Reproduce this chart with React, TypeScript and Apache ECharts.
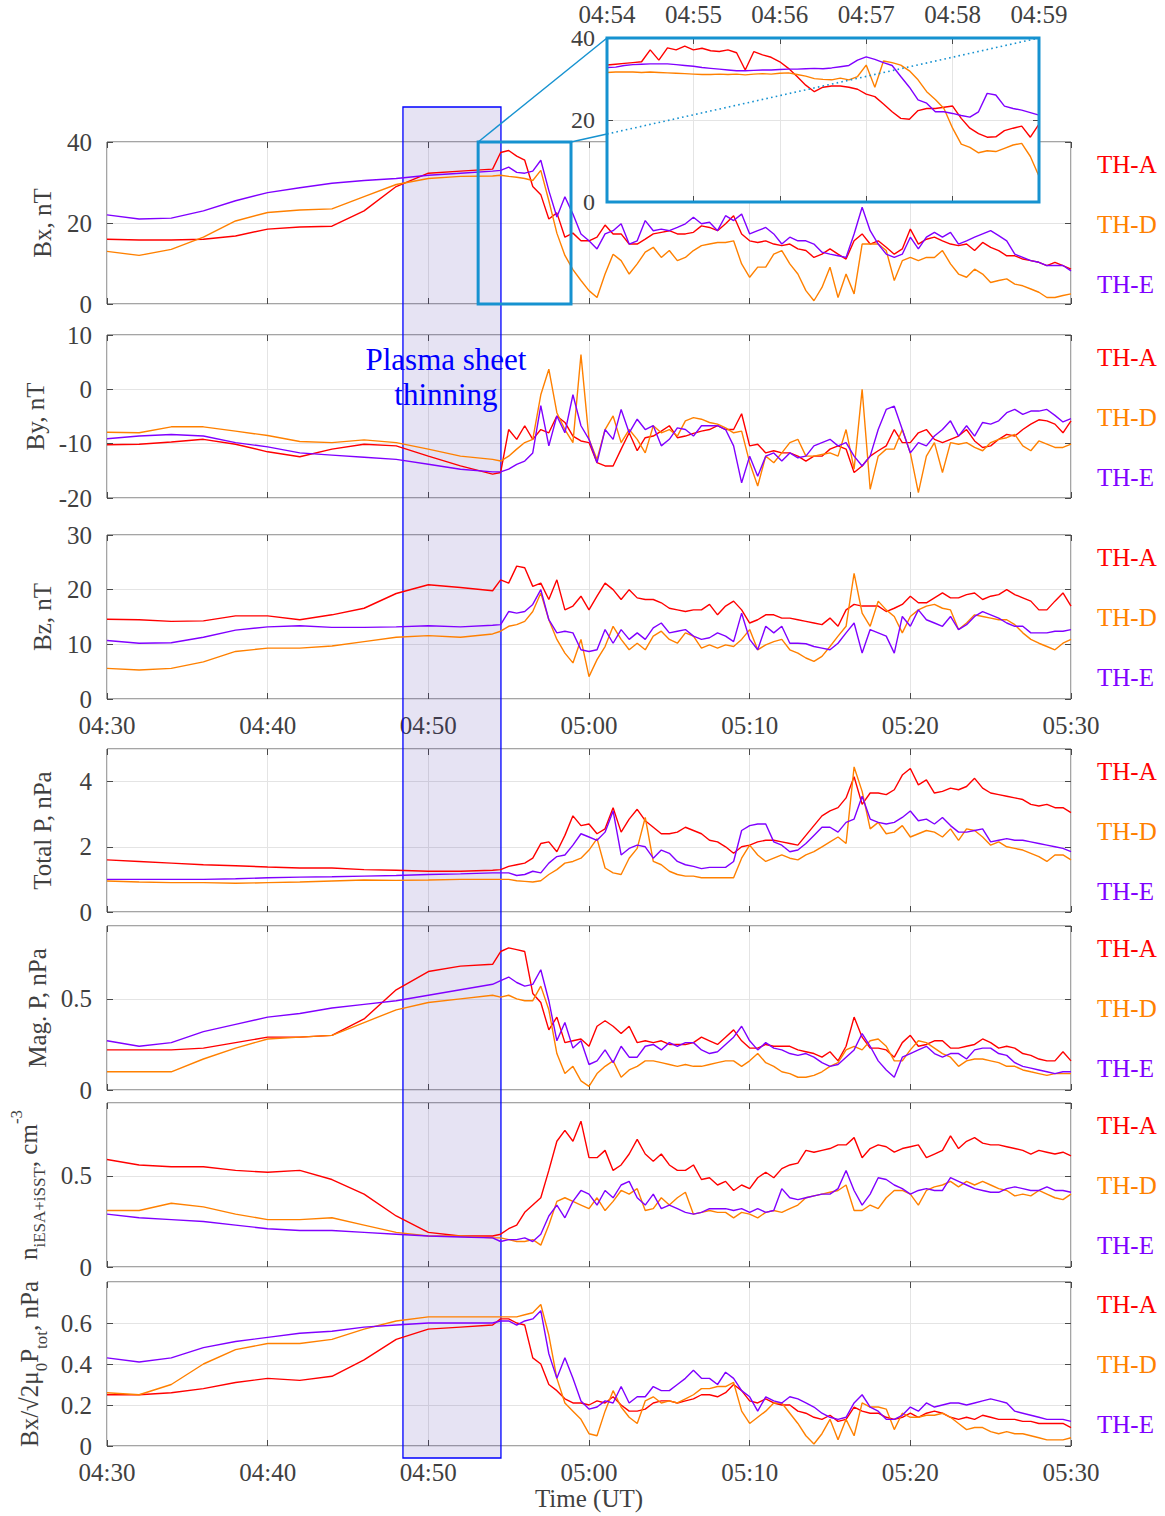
import React, { useEffect, useRef } from "react";
import * as echarts from "echarts";

const W = 1165;
const H = 1516;

// ---- time grid: minutes after 04:30 UT ----
const tQuiet = [0, 2, 4, 6, 8, 10, 12, 14, 16, 18, 20, 22, 24];
const tActive = Array.from({ length: 72 }, (_, i) => 24.5 + i * 0.5);
const tMin = [...tQuiet, ...tActive];
const tInset = Array.from({ length: 51 }, (_, i) => 24 + i * 0.1);

// ---- Bx, nT ----
const bxA = [16, 15.8, 15.8, 16, 16.8, 18.5, 19, 19.2, 23, 29, 32.3, 32.8, 33.3,
  37.4, 37.9, 36.5, 35.5, 29, 27, 21, 22.5, 16.5, 17.5,
  15.6, 15.6, 16.5, 19.5, 17.3, 17.3, 14.8, 14.8, 16, 17.3,
  17.7, 18.1, 17.3, 17.3, 17.7, 19.3, 18.9, 18.1, 19.8, 21.8,
  17.3, 15.6, 15.2, 15.6, 14.8, 14.4, 14.8, 13.6, 13.2, 11.5,
  12.3, 13.6, 12.3, 11.1, 15.6, 17.3, 14.8, 15.6, 14, 12.3,
  13.6, 18.5, 14.8, 16, 16.5, 15.6, 14.8, 14.4, 14.8, 13.2,
  15.2, 14, 13.2, 11.9, 11.9, 11.1, 10.7, 10.3, 9.5, 10.3,
  9.5, 8.6];
const bxD = [13, 12, 13.5, 16.5, 20.5, 22.6, 23.2, 23.5, 26.5, 29.5, 31, 31.5, 31.6,
  31.8, 31.5, 31.3, 31.0, 30.5, 33.0, 25.5, 17.5, 12.0, 8.5,
  5.8, 3.3, 1.6, 7.4, 12.3, 10.7, 7.4, 9.9, 12.8, 14,
  11.5, 13.2, 10.7, 11.5, 13.2, 14.4, 14.8, 15.2, 15.2, 15.6,
  9.9, 6.6, 9.1, 9.1, 12.3, 13.2, 9.9, 7.4, 3.3, 0.8,
  4.1, 9.1, 1.6, 7.4, 2.5, 14.8, 14.8, 14.8, 13.2, 5.8,
  10.7, 11.5, 10.7, 11.5, 11.5, 13.2, 9.9, 7.4, 6.6, 8.6,
  7.4, 5.3, 5.8, 6.2, 4.9, 4.5, 3.7, 2.9, 1.6, 1.6,
  2.1, 2.5];
const bxE = [22, 21, 21.2, 23, 25.5, 27.5, 28.7, 29.8, 30.5, 31, 31.8, 32.3, 32.8,
  33.0, 33.8, 32.5, 32.3, 32.8, 35.5, 28, 21.5, 26.5, 22.2,
  17.3, 15.6, 13.6, 17.3, 18.1, 19.8, 14.8, 15.6, 20.6, 18.1,
  18.5, 18.1, 18.9, 19.8, 21.4, 19.8, 20.2, 18.1, 21.8, 20.6,
  22.2, 17.3, 18.1, 18.9, 17.3, 14.8, 16.5, 15.6, 15.6, 14.8,
  12.8, 12.3, 11.9, 11.5, 17.3, 23.9, 18.1, 14.8, 12.3, 11.5,
  12.3, 16.5, 13.6, 16.5, 17.7, 16.5, 17.7, 14.8, 15.6, 16.5,
  17.3, 18.1, 16.9, 15.6, 12.3, 11.5, 10.7, 10.3, 9.5, 9.5,
  9.5, 8.2];

// ---- By, nT ----
const byA = [-10.2, -10.1, -9.7, -9.2, -10.1, -11.5, -12.4, -11, -10.1, -10.4, -12.3, -14.1, -15.6,
  -15.3, -7.4, -9.2, -6.7, -9.2, -7.4, -8, -4.9, -6.1, -8.6,
  -9.5, -9.8, -13.5, -14.1, -14.1, -11, -8, -11.3, -8.9, -8.6,
  -7.7, -6.7, -8.9, -8.6, -8.1, -7.7, -7.4, -6.7, -7.4, -7.4,
  -4.5, -10.4, -10.1, -11.7, -11.3, -11.7, -11.7, -12.3, -13.2, -12.3,
  -12.3, -11, -10.4, -11, -15.3, -14.1, -12.3, -11.3, -10.4, -7.4,
  -9.8, -9.8, -8, -7.4, -9.2, -9.8, -9.2, -8.6, -7.4, -9.5,
  -10.7, -10.4, -9.2, -8.3, -8.6, -7.4, -6.4, -5.6, -5.8, -6.4,
  -8, -5.8];
const byD = [-7.9, -8, -6.9, -6.9, -7.7, -8.5, -9.6, -9.8, -9.3, -9.8, -11, -12.3, -12.9,
  -13.2, -12.3, -11, -9.8, -9.2, -1, 3.7, -4.3, -7.4, -9.8,
  6.4, -9.2, -12.9, -7.4, -4.9, -9.8, -7.4, -9.2, -11.7, -6.7,
  -8, -7.4, -8.6, -5.8, -5.2, -5.5, -6.1, -6.4, -7.1, -8,
  -7.7, -13.5, -17.8, -12.3, -13.5, -11.7, -9.8, -9.2, -12.3, -12.3,
  -12, -11.7, -12.3, -7.4, -14.7, 0, -18.4, -12.3, -11, -11,
  -7.4, -11.7, -19, -12.3, -9.8, -15.3, -9.8, -10.1, -9.8, -10.7,
  -11.3, -9.8, -9.2, -8.9, -8.3, -10.4, -11.3, -9.5, -10.1, -10.7,
  -10.7, -10.1];
const byE = [-9.1, -8.6, -8.3, -8.6, -9.8, -10.6, -11.7, -12.1, -12.5, -12.9, -13.8, -14.7, -15.2,
  -15.2, -14.7, -13.8, -13.2, -11.7, -3, -10.4, -4.9, -8, -1,
  -6.7, -9.2, -13.5, -7.4, -9.2, -3.7, -8, -5.5, -7.4, -6.7,
  -10.4, -9.2, -7.1, -7.4, -8.6, -6.7, -6.7, -6.7, -7.4, -10.4,
  -17.2, -12.3, -16, -12.3, -11.7, -13.2, -11.7, -12.6, -12.3, -10.4,
  -9.8, -9.2, -10.4, -9.8, -12.3, -14.1, -12.3, -7.4, -3.7, -3.1,
  -7.4, -11.7, -9.8, -10.4, -8.6, -7.4, -5.8, -8.6, -6.7, -8.6,
  -6.1, -6.4, -5.8, -4.3, -3.7, -4.6, -4, -4, -3.7, -4.8,
  -6, -5.4];

// ---- Bz, nT ----
const bzA = [14.6, 14.5, 14.2, 14.3, 15.2, 15.2, 14.5, 15.4, 16.6, 19.3, 20.9, 20.4, 19.8,
  21.8, 21.2, 24.3, 24, 20.6, 21.2, 18.2, 21.8, 16.3, 17,
  18.8, 16.3, 18.8, 21.2, 20, 18.2, 20, 18.5, 18.2, 18.2,
  17.6, 16.6, 16.3, 16, 16.3, 16.3, 17.3, 15.4, 17, 17.9,
  16.3, 13.9, 14.5, 15.4, 15.4, 14.8, 14.8, 14.5, 14.2, 13.9,
  13.6, 14.8, 13.3, 16.3, 17.3, 17, 17, 17, 16, 16.6,
  17.3, 18.8, 17.6, 17.6, 18.5, 19.4, 18.5, 18.5, 19.1, 19.4,
  18.2, 18.8, 19.1, 20, 19.1, 18.5, 17.9, 16.3, 16.3, 17.9,
  19.4, 17];
const bzD = [5.6, 5.3, 5.6, 6.8, 8.7, 9.3, 9.3, 9.7, 10.5, 11.3, 11.6, 11.3, 11.9,
  12.4, 13.3, 13.6, 14.2, 16, 19.4, 14.5, 10.9, 8.4, 6.6,
  10.9, 4.1, 7.2, 9.6, 13.3, 10.9, 9, 10.2, 9, 11.5,
  12.4, 10.9, 10.2, 12.1, 11.5, 9.3, 9.9, 9.3, 9.9, 9.6,
  10.9, 12.7, 9, 9.9, 10.5, 10.9, 9, 8.4, 7.5, 6.9,
  7.8, 9.6, 11.5, 13.3, 23, 15.7, 13.3, 17.9, 16.3, 15.1,
  12.1, 15.1, 16.3, 17, 17.3, 16.6, 16.3, 12.7, 13.9, 15.4,
  15.1, 14.8, 14.5, 14.5, 13.6, 12.1, 10.9, 10.2, 9.6, 9,
  10.2, 10.9];
const bzE = [10.7, 10.2, 10.3, 11.3, 12.6, 13.2, 13.4, 13.1, 13.1, 13.2, 13.4, 13.2, 13.5,
  13.6, 16, 15.7, 16, 17.3, 20, 14.5, 12.1, 12.4, 12.1,
  9, 8.7, 9, 12.7, 10.2, 12.7, 10.9, 12.1, 10.9, 13,
  13.9, 12.1, 12.4, 12.7, 11.5, 10.9, 11.2, 12.1, 11.5, 10.5,
  15.7, 10.9, 9, 13.3, 12.1, 13.3, 10.2, 10.2, 10.1, 9.6,
  9.3, 9, 10.2, 12.1, 13.9, 8.4, 12.7, 12.1, 11.5, 8.4,
  15.1, 13.3, 16.3, 14.5, 13.9, 13.3, 15.1, 12.7, 13.6, 15.1,
  16, 15.4, 14.8, 13.9, 13.3, 13.3, 12.1, 12.1, 12.1, 12.4,
  12.4, 12.7];

// ---- Total P, nPa ----
const tpA = [1.6, 1.55, 1.5, 1.45, 1.42, 1.38, 1.35, 1.35, 1.3, 1.28, 1.25, 1.25, 1.28,
  1.3, 1.4, 1.45, 1.5, 1.65, 2.1, 2.15, 1.85, 2.35, 2.95,
  2.65, 2.7, 2.4, 2.55, 3.2, 2.45, 2.85, 3.15, 2.8, 2.6,
  2.4, 2.4, 2.45, 2.6, 2.5, 2.4, 2.2, 2.15, 2, 1.8,
  2, 2.05, 2.15, 2.2, 2.2, 2.15, 2.1, 2.05, 2.35, 2.65,
  2.95, 3.1, 3.2, 3.5, 4.15, 3.3, 3.65, 3.65, 3.6, 3.75,
  4.2, 4.4, 3.9, 4.05, 3.65, 3.7, 3.8, 3.75, 3.85, 4.1,
  3.8, 3.65, 3.6, 3.55, 3.5, 3.45, 3.3, 3.25, 3.3, 3.2,
  3.2, 3.05];
const tpD = [0.95, 0.92, 0.9, 0.9, 0.88, 0.9, 0.92, 0.95, 0.98, 0.97, 0.98, 1.0, 1.0,
  1.0, 1.0, 0.96, 0.94, 0.92, 0.96, 1.15, 1.3, 1.5, 1.55,
  1.65, 1.9, 2.25, 1.35, 1.2, 1.15, 1.65, 1.95, 2.9, 1.55,
  1.45, 1.25, 1.15, 1.1, 1.1, 1.05, 1.05, 1.05, 1.05, 1.05,
  1.65, 2.05, 1.75, 1.55, 1.65, 1.75, 1.65, 1.6, 1.75, 1.85,
  2, 2.15, 2.3, 2.1, 4.45, 3.7, 2.55, 2.75, 2.4, 2.45,
  2.65, 2.3, 2.4, 2.5, 2.45, 2.3, 2.55, 2.2, 2.55, 2.5,
  2.3, 2.05, 2.15, 2, 1.95, 1.9, 1.8, 1.7, 1.55, 1.75,
  1.75, 1.6];
const tpE = [1.0, 1.0, 1.0, 1.0, 1.02, 1.05, 1.07, 1.08, 1.1, 1.12, 1.15, 1.17, 1.2,
  1.2, 1.2, 1.12, 1.15, 1.25, 1.2, 1.5, 1.7, 1.75, 2.05,
  2.4, 2.3, 2.2, 2.45, 3.1, 1.75, 1.95, 2.05, 2, 1.65,
  1.9, 1.8, 1.55, 1.45, 1.4, 1.33, 1.37, 1.37, 1.37, 1.55,
  2.5, 2.65, 2.7, 2.7, 2.15, 2.05, 1.85, 1.9, 2.1, 2.35,
  2.6, 2.6, 2.45, 2.75, 2.85, 3.55, 2.85, 2.75, 2.7, 2.75,
  2.9, 3.1, 2.8, 2.85, 2.7, 2.9, 2.65, 2.45, 2.45, 2.5,
  2.55, 2.15, 2.2, 2.25, 2.2, 2.2, 2.15, 2.1, 2.05, 2,
  1.95, 1.85];

// ---- Mag. P, nPa ----
const mpA = [0.22, 0.22, 0.22, 0.23, 0.26, 0.29, 0.29, 0.3, 0.39, 0.55, 0.65, 0.68, 0.69,
  0.76, 0.78, 0.77, 0.76, 0.53, 0.48, 0.33, 0.4, 0.26, 0.27,
  0.28, 0.24, 0.35, 0.38, 0.35, 0.31, 0.35, 0.26, 0.27, 0.26,
  0.27, 0.25, 0.25, 0.25, 0.26, 0.29, 0.27, 0.25, 0.29, 0.33,
  0.27, 0.23, 0.23, 0.25, 0.24, 0.24, 0.24, 0.22, 0.21, 0.2,
  0.18, 0.21, 0.16, 0.24, 0.4, 0.29, 0.23, 0.23, 0.22, 0.18,
  0.26, 0.3, 0.24, 0.25, 0.27, 0.27, 0.23, 0.23, 0.24, 0.25,
  0.28, 0.26, 0.23, 0.24, 0.23, 0.2, 0.19, 0.17, 0.16, 0.16,
  0.21, 0.16];
const mpD = [0.1, 0.1, 0.1, 0.17, 0.23, 0.28, 0.29, 0.3, 0.37, 0.44, 0.48, 0.5, 0.52,
  0.51, 0.52, 0.5, 0.49, 0.49, 0.57, 0.44, 0.2, 0.09, 0.13,
  0.05, 0.02, 0.09, 0.13, 0.16, 0.07, 0.11, 0.13, 0.16, 0.16,
  0.15, 0.14, 0.13, 0.14, 0.13, 0.13, 0.14, 0.15, 0.16, 0.16,
  0.13, 0.16, 0.2, 0.15, 0.13, 0.1, 0.09, 0.07, 0.07, 0.08,
  0.1, 0.13, 0.15, 0.22, 0.24, 0.22, 0.27, 0.28, 0.24, 0.16,
  0.16, 0.22, 0.27, 0.26, 0.23, 0.2, 0.18, 0.13, 0.16, 0.17,
  0.17, 0.16, 0.15, 0.13, 0.13, 0.11, 0.1, 0.09, 0.08, 0.09,
  0.09, 0.09];
const mpE = [0.27, 0.24, 0.26, 0.32, 0.36, 0.4, 0.42, 0.45, 0.47, 0.49, 0.52, 0.55, 0.58,
  0.6, 0.62, 0.59, 0.57, 0.58, 0.66, 0.49, 0.27, 0.37, 0.23,
  0.27, 0.14, 0.16, 0.22, 0.15, 0.24, 0.18, 0.18, 0.24, 0.25,
  0.22, 0.26, 0.24, 0.26, 0.26, 0.22, 0.2, 0.21, 0.25, 0.29,
  0.35, 0.27, 0.22, 0.26, 0.23, 0.22, 0.2, 0.19, 0.2, 0.18,
  0.15, 0.13, 0.14, 0.18, 0.22, 0.31, 0.24, 0.16, 0.11, 0.07,
  0.18, 0.2, 0.22, 0.24, 0.2, 0.18, 0.2, 0.2, 0.17, 0.22,
  0.23, 0.23, 0.2, 0.19, 0.15, 0.13, 0.12, 0.11, 0.1, 0.09,
  0.1, 0.1];

// ---- n (iESA+iSST), cm^-3 ----
const nA = [0.59, 0.56, 0.55, 0.55, 0.53, 0.52, 0.53, 0.48, 0.4, 0.28, 0.19, 0.17, 0.17,
  0.18, 0.21, 0.23, 0.3, 0.34, 0.38, 0.53, 0.69, 0.75, 0.69,
  0.8, 0.6, 0.6, 0.64, 0.53, 0.56, 0.62, 0.7, 0.62, 0.58,
  0.62, 0.56, 0.53, 0.53, 0.56, 0.48, 0.49, 0.45, 0.47, 0.42,
  0.45, 0.43, 0.49, 0.52, 0.49, 0.54, 0.56, 0.57, 0.64, 0.63,
  0.64, 0.65, 0.67, 0.67, 0.71, 0.6, 0.65, 0.67, 0.66, 0.63,
  0.65, 0.66, 0.67, 0.6, 0.62, 0.64, 0.72, 0.65, 0.69, 0.71,
  0.68, 0.67, 0.67, 0.66, 0.65, 0.64, 0.62, 0.64, 0.63, 0.62,
  0.63, 0.61];
const nD = [0.31, 0.31, 0.35, 0.33, 0.29, 0.26, 0.26, 0.27, 0.23, 0.19, 0.17, 0.17, 0.16,
  0.16, 0.15, 0.14, 0.14, 0.15, 0.12, 0.23, 0.36, 0.38, 0.36,
  0.34, 0.32, 0.38, 0.31, 0.36, 0.42, 0.4, 0.43, 0.31, 0.32,
  0.38, 0.34, 0.38, 0.41, 0.29, 0.3, 0.31, 0.3, 0.3, 0.27,
  0.3, 0.29, 0.27, 0.3, 0.31, 0.3, 0.32, 0.34, 0.38, 0.39,
  0.4, 0.41, 0.42, 0.45, 0.31, 0.31, 0.34, 0.32, 0.38, 0.42,
  0.42, 0.4, 0.34, 0.42, 0.44, 0.45, 0.47, 0.44, 0.47, 0.45,
  0.47, 0.45, 0.43, 0.42, 0.39, 0.4, 0.39, 0.42, 0.4, 0.38,
  0.37, 0.4];
const nE = [0.29, 0.27, 0.26, 0.25, 0.23, 0.21, 0.2, 0.2, 0.19, 0.18, 0.17, 0.165, 0.16,
  0.14, 0.15, 0.15, 0.16, 0.14, 0.18, 0.28, 0.34, 0.27, 0.36,
  0.42, 0.4, 0.34, 0.42, 0.38, 0.45, 0.47, 0.38, 0.34, 0.4,
  0.32, 0.34, 0.32, 0.3, 0.29, 0.3, 0.32, 0.32, 0.32, 0.31,
  0.32, 0.3, 0.32, 0.3, 0.31, 0.43, 0.38, 0.37, 0.38, 0.39,
  0.4, 0.4, 0.43, 0.53, 0.42, 0.34, 0.4, 0.49, 0.48, 0.45,
  0.43, 0.4, 0.42, 0.43, 0.42, 0.42, 0.49, 0.47, 0.45, 0.43,
  0.42, 0.41, 0.41, 0.43, 0.44, 0.43, 0.42, 0.42, 0.44, 0.42,
  0.42, 0.41];

// ---- Bx / sqrt(2 mu0 Ptot), nPa ----
const bsA = [0.25, 0.25, 0.26, 0.28, 0.31, 0.33, 0.32, 0.34, 0.42, 0.52, 0.57, 0.58, 0.59,
  0.62, 0.62, 0.6, 0.59, 0.43, 0.4, 0.3, 0.27, 0.23, 0.21,
  0.21, 0.2, 0.22, 0.21, 0.24, 0.2, 0.17, 0.17, 0.18, 0.21,
  0.22, 0.22, 0.21, 0.22, 0.23, 0.25, 0.25, 0.24, 0.26, 0.3,
  0.27, 0.22, 0.21, 0.23, 0.21, 0.2, 0.2, 0.17, 0.16, 0.14,
  0.13, 0.15, 0.12, 0.13, 0.19, 0.17, 0.16, 0.16, 0.14, 0.13,
  0.14, 0.16, 0.14, 0.16, 0.17, 0.16, 0.14, 0.13, 0.14, 0.13,
  0.15, 0.14, 0.13, 0.13, 0.13, 0.12, 0.12, 0.11, 0.11, 0.11,
  0.11, 0.09];
const bsD = [0.26, 0.25, 0.3, 0.4, 0.47, 0.5, 0.5, 0.52, 0.57, 0.61, 0.63, 0.63, 0.63,
  0.63, 0.63, 0.63, 0.64, 0.65, 0.69, 0.54, 0.33, 0.21, 0.17,
  0.13, 0.06, 0.05, 0.17, 0.27, 0.19, 0.14, 0.11, 0.22, 0.24,
  0.21, 0.22, 0.21, 0.23, 0.25, 0.28, 0.28, 0.29, 0.29, 0.31,
  0.17, 0.11, 0.14, 0.17, 0.21, 0.21, 0.16, 0.11, 0.05, 0.01,
  0.06, 0.13, 0.03, 0.13, 0.05, 0.21, 0.19, 0.19, 0.18, 0.08,
  0.16, 0.14, 0.14, 0.15, 0.15, 0.16, 0.14, 0.11, 0.08, 0.09,
  0.09, 0.07, 0.06, 0.07, 0.06, 0.06, 0.05, 0.04, 0.03, 0.03,
  0.03, 0.04];
const bsE = [0.43, 0.41, 0.43, 0.48, 0.51, 0.53, 0.55, 0.56, 0.58, 0.59, 0.6, 0.6, 0.6,
  0.61, 0.61, 0.59, 0.61, 0.62, 0.66, 0.45, 0.33, 0.43, 0.33,
  0.22, 0.18, 0.19, 0.22, 0.21, 0.29, 0.21, 0.24, 0.24, 0.29,
  0.27, 0.27, 0.3, 0.33, 0.37, 0.33, 0.33, 0.3, 0.36, 0.33,
  0.27, 0.24, 0.17, 0.24, 0.22, 0.21, 0.24, 0.23, 0.21, 0.19,
  0.16, 0.14, 0.13, 0.14, 0.21, 0.25, 0.19, 0.17, 0.13, 0.13,
  0.15, 0.19, 0.17, 0.21, 0.19, 0.2, 0.21, 0.21, 0.2, 0.21,
  0.22, 0.23, 0.22, 0.21, 0.17, 0.16, 0.15, 0.14, 0.13, 0.13,
  0.13, 0.12];

// ---- inset: Bx, 04:54 - 04:59 ----
const insetA = [33.4, 33.6, 33.8, 34.0, 34.2, 37.1, 34.6, 37.6, 37.1, 38.0,
  37.1, 37.5, 36.9, 36.7, 37.1, 36.4, 32.2, 36.7, 35.9, 35.3,
  34.2, 32.6, 30.6, 28.5, 26.9, 28.0, 28.3, 28.3, 28.0, 27.5,
  26.3, 25.7, 23.9, 22.0, 20.4, 20.2, 22.3, 22.8, 22.8, 23.1,
  23.4, 20.4, 18.0, 16.7, 15.8, 15.9, 17.4, 18.0, 18.5, 15.8,
  19.0];
const insetD = [31.6, 31.7, 31.7, 31.7, 31.6, 31.7, 31.6, 31.5, 31.4, 31.3,
  31.2, 31.1, 31.1, 31.2, 31.1, 31.2, 31.0, 31.2, 31.3, 31.2,
  31.4, 31.5, 31.1, 30.7, 30.1, 29.9, 29.8, 30.2, 29.8, 30.6,
  33.4, 28.0, 34.4, 34.0, 33.4, 32.0, 29.8, 26.9, 25.0, 22.8,
  18.0, 14.1, 13.3, 12.0, 12.5, 12.3, 13.1, 13.9, 14.3, 11.1,
  6.3];
const insetE = [32.8, 32.9, 33.3, 33.5, 33.6, 33.7, 33.7, 33.7, 33.5, 33.3,
  33.1, 32.8, 32.6, 32.4, 32.2, 32.0, 32.0, 32.1, 32.2, 32.2,
  32.3, 32.4, 32.4, 32.5, 32.6, 32.5, 32.7, 33.0, 33.3, 34.6,
  35.4, 34.8, 34.0, 33.3, 30.6, 28.0, 24.9, 24.1, 22.0, 22.0,
  21.6, 21.1, 20.7, 22.0, 26.5, 26.1, 23.4, 22.8, 22.4, 21.8,
  21.2];

// annotation intervals (minutes after 04:30)
const THIN_START = 18.42;
const THIN_END = 24.52;
const ZOOM_T0 = 23.1;
const ZOOM_T1 = 28.88;

const SPACECRAFT = ["TH-A", "TH-D", "TH-E"];
const COLORS = ["#ff0000", "#ff8000", "#8000ff"];

const FONT = "'Liberation Serif', 'Times New Roman', serif";
const TXT = "#404040";
const AXC = "#4a4a4a";
const GRIDC = "#e4e4e4";
const CYAN = "#1692d0";
const FS = 25;

const PANELS = [
  { top: 142, height: 162, min: 0, max: 40, interval: 20, name: "Bx, nT", gap: 52, data: [bxA, bxD, bxE] },
  { top: 335, height: 163, min: -20, max: 10, interval: 10, name: "By, nT", gap: 52, data: [byA, byD, byE] },
  { top: 535, height: 164, min: 0, max: 30, interval: 10, name: "Bz, nT", gap: 52, data: [bzA, bzD, bzE], timeLabels: true },
  { top: 749, height: 163, min: 0, max: 5, interval: 2, name: "Total P, nPa", gap: 52, data: [tpA, tpD, tpE], hideMax: true },
  { top: 926, height: 164, min: 0, max: 0.9, interval: 0.5, name: "Mag. P, nPa", gap: 52, data: [mpA, mpD, mpE], hideMax: true },
  { top: 1103, height: 164, min: 0, max: 0.9, interval: 0.5, name: "{m|n}{sub|iESA+iSST}{m|, cm}{sup|-3}", gap: 59, data: [nA, nD, nE], hideMax: true },
  { top: 1282, height: 164, min: 0, max: 0.8, interval: 0.2, name: "{m|Bx/√2μ}{sub|0}{m|P}{sub|tot}{m|, nPa}", gap: 44, data: [bsA, bsD, bsE], hideMax: true, timeLabels: true, xName: "Time (UT)" },
];

const timeLabel = (t: number) => {
  const total = 4 * 60 + 30 + Math.round(t);
  const h = Math.floor(total / 60);
  const m = total % 60;
  return `${String(h).padStart(2, "0")}:${String(m).padStart(2, "0")}`;
};

const pairs = (t: number[], v: number[]) => t.map((x, i) => [x, v[i]]);

const textBase = { fontFamily: FONT, fontSize: FS, color: TXT };
const richName = {
  m: { fontFamily: FONT, fontSize: FS, color: TXT, lineHeight: 40, verticalAlign: "middle" },
  sub: { fontFamily: FONT, fontSize: 17, color: TXT, lineHeight: 17, verticalAlign: "bottom" },
  sup: { fontFamily: FONT, fontSize: 17, color: TXT, lineHeight: 17, verticalAlign: "top" },
};

function buildOption() {
  const grid: any[] = [];
  const xAxis: any[] = [];
  const yAxis: any[] = [];
  const series: any[] = [];
  const tick = { show: true, inside: true, length: 6, lineStyle: { color: AXC, width: 1 } };
  const noLine = { show: false, onZero: false };

  PANELS.forEach((p, gi) => {
    grid.push({
      left: 107, top: p.top, width: 964, height: p.height,
      show: true, borderColor: AXC, borderWidth: 1, backgroundColor: "transparent",
      containLabel: false, outerBoundsMode: "none",
    });
    xAxis.push({
      gridIndex: gi, type: "value", position: "bottom", min: 0, max: 60, interval: 10,
      axisLine: noLine, axisTick: tick,
      axisLabel: { show: !!p.timeLabels, formatter: timeLabel, margin: 14, ...textBase },
      splitLine: { show: true, lineStyle: { color: GRIDC, width: 1 } },
      name: p.xName || "", nameLocation: "middle", nameGap: 40,
      nameTextStyle: { ...textBase },
    });
    xAxis.push({
      gridIndex: gi, type: "value", position: "top", min: 0, max: 60, interval: 10,
      axisLine: noLine, axisTick: tick, axisLabel: { show: false }, splitLine: { show: false },
    });
    yAxis.push({
      gridIndex: gi, type: "value", position: "left", min: p.min, max: p.max, interval: p.interval,
      axisLine: noLine, axisTick: tick,
      axisLabel: { margin: 15, showMaxLabel: !p.hideMax, ...textBase },
      splitLine: { show: true, lineStyle: { color: GRIDC, width: 1 } },
      name: p.name, nameLocation: "middle", nameRotate: 90, nameGap: p.gap,
      nameTextStyle: { ...textBase, rich: richName },
    });
    yAxis.push({
      gridIndex: gi, type: "value", position: "right", min: p.min, max: p.max, interval: p.interval,
      axisLine: noLine, axisTick: tick, axisLabel: { show: false }, splitLine: { show: false },
    });
    p.data.forEach((arr, k) => {
      series.push({
        type: "line", name: SPACECRAFT[k], xAxisIndex: 2 * gi, yAxisIndex: 2 * gi,
        data: pairs(tMin, arr), showSymbol: false, symbol: "none", silent: true,
        lineStyle: { color: COLORS[k], width: 1.4 }, itemStyle: { color: COLORS[k] },
        emphasis: { disabled: true }, z: 2,
      });
    });
  });

  // inset
  const gi = PANELS.length;
  grid.push({ left: 607, top: 38, width: 432, height: 164, show: false, containLabel: false, outerBoundsMode: "none" });
  xAxis.push({
    gridIndex: gi, type: "value", position: "top", min: 24, max: 29, interval: 1, z: 10,
    axisLine: noLine, axisTick: tick,
    axisLabel: { show: true, formatter: timeLabel, margin: 13, lineHeight: 22, ...textBase },
    splitLine: { show: true, lineStyle: { color: GRIDC, width: 1 } },
  });
  xAxis.push({
    gridIndex: gi, type: "value", position: "bottom", min: 24, max: 29, interval: 1, z: 10,
    axisLine: noLine, axisTick: tick, axisLabel: { show: false }, splitLine: { show: false },
  });
  yAxis.push({
    gridIndex: gi, type: "value", position: "left", min: 0, max: 40, interval: 20, z: 10,
    axisLine: noLine, axisTick: tick,
    axisLabel: { margin: 12, ...textBase, fontSize: 24, lineHeight: 20 },
    splitLine: { show: true, lineStyle: { color: GRIDC, width: 1 } },
  });
  yAxis.push({
    gridIndex: gi, type: "value", position: "right", min: 0, max: 40, interval: 20, z: 10,
    axisLine: noLine, axisTick: tick, axisLabel: { show: false }, splitLine: { show: false },
  });
  [insetA, insetD, insetE].forEach((arr, k) => {
    series.push({
      type: "line", name: SPACECRAFT[k] + " inset", xAxisIndex: 2 * gi, yAxisIndex: 2 * gi,
      data: pairs(tInset, arr), showSymbol: false, symbol: "none", silent: true,
      lineStyle: { color: COLORS[k], width: 1.4 }, itemStyle: { color: COLORS[k] },
      emphasis: { disabled: true }, z: 11,
    });
  });

  return {
    animation: false,
    backgroundColor: "#ffffff",
    textStyle: { fontFamily: FONT },
    tooltip: { show: false },
    grid, xAxis, yAxis, series,
  };
}

function buildGraphics(chart: any) {
  const px = (si: number, t: number, v: number) =>
    chart.convertToPixel({ seriesIndex: si }, [t, v]) as number[];
  const els: any[] = [];
  const txt = (text: string, x: number, y: number, fill: string, size: number, align: string, z: number, extra: any = {}) => ({
    type: "text", x, y, z, silent: true,
    style: {
      text, fill, fontSize: size, fontFamily: FONT,
      align, textAlign: align, verticalAlign: "middle", textVerticalAlign: "middle", ...extra,
    },
  });

  // plasma sheet thinning band
  const [sx0, sTop] = px(0, THIN_START, PANELS[0].max);
  const [sx1] = px(0, THIN_END, PANELS[0].max);
  const [, sBot] = px(18, THIN_START, 0);
  const bandTop = sTop - 35;
  const bandBot = sBot + 12;
  els.push({
    type: "rect", z: 1, silent: true,
    shape: { x: sx0, y: bandTop, width: sx1 - sx0, height: bandBot - bandTop },
    style: { fill: "rgba(60,40,160,0.13)", stroke: "#0000ff", lineWidth: 1.3 },
  });
  const [, byTop] = px(3, 0, PANELS[1].max);
  els.push(txt("Plasma sheet\nthinning", (sx0 + sx1) / 2 - 6, byTop + 42, "#0000ff", 31, "center", 3, { lineHeight: 35 }));

  // inset frame
  const [ix0, iy0] = px(21, 24, 40);
  const [ix1, iy1] = px(21, 29, 0);
  els.push({
    type: "rect", z: 5, silent: true,
    shape: { x: ix0, y: iy0, width: ix1 - ix0, height: iy1 - iy0 },
    style: { fill: "#ffffff", stroke: "none" },
  });
  els.push({
    type: "rect", z: 12, silent: true,
    shape: { x: ix0, y: iy0, width: ix1 - ix0, height: iy1 - iy0 },
    style: { fill: "none", stroke: CYAN, lineWidth: 3 },
  });

  // zoom box in Bx panel
  const [bx0, by0] = px(0, ZOOM_T0, PANELS[0].max);
  const [bx1, by1] = px(0, ZOOM_T1, 0);
  els.push({
    type: "rect", z: 12, silent: true,
    shape: { x: bx0, y: by0, width: bx1 - bx0, height: by1 - by0 },
    style: { fill: "none", stroke: CYAN, lineWidth: 3 },
  });
  els.push({
    type: "line", z: 12, silent: true,
    shape: { x1: bx0, y1: by0, x2: ix0, y2: iy0 },
    style: { stroke: CYAN, lineWidth: 1.5 },
  });
  const frac = (ix0 - bx1) / (ix1 - bx1);
  const yMeet = by0 + frac * (iy0 - by0);
  els.push({
    type: "line", z: 12, silent: true,
    shape: { x1: bx1, y1: by0, x2: ix0, y2: yMeet },
    style: { stroke: CYAN, lineWidth: 1.5 },
  });
  els.push({
    type: "line", z: 12, silent: true,
    shape: { x1: ix0, y1: yMeet, x2: ix1, y2: iy0 },
    style: { stroke: CYAN, lineWidth: 1.6, lineDash: [1.6, 3.2] },
  });

  // spacecraft labels to the right of each panel
  PANELS.forEach((p, gi) => {
    const [, top] = px(3 * gi, 0, p.max);
    SPACECRAFT.forEach((s, k) => {
      els.push(txt(s, 1097, top + 22 + 60 * k, COLORS[k], FS, "left", 3));
    });
  });

  return els;
}

export default function App() {
  const ref = useRef<HTMLDivElement>(null);
  useEffect(() => {
    document.body.style.margin = "0";
    const chart = echarts.init(ref.current!, null, { renderer: "svg", width: W, height: H });
    chart.setOption(buildOption());
    chart.setOption({ graphic: { elements: buildGraphics(chart) } });
    return () => chart.dispose();
  }, []);
  return <div ref={ref} style={{ width: W, height: H, background: "#fff" }} />;
}
